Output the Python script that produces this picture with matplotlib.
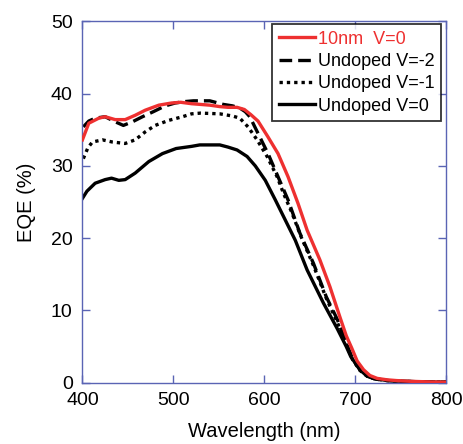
import matplotlib
matplotlib.use("Agg")
import matplotlib.pyplot as plt

plt.rcParams['font.family'] = ['Liberation Sans', 'DejaVu Sans']

# 10nm V=0 (red)
wl_red = [400, 407, 418, 425, 436, 447, 458, 469, 484, 498, 508, 520, 530, 540, 551, 560, 570, 578, 585, 593,
          604, 615, 626, 637, 647, 661, 672, 683, 690, 696, 702, 709, 716, 724, 735, 745, 760, 780, 800]
eqe_red = [33.6, 35.9, 36.6, 36.8, 36.4, 36.4, 37.0, 37.7, 38.4, 38.7, 38.8, 38.6, 38.5, 38.4, 38.2, 38.1, 38.1, 37.8, 37.1, 36.2,
           34.0, 31.7, 28.5, 24.8, 21.1, 17.0, 13.3, 9.1, 6.5, 4.8, 3.0, 1.8, 1.0, 0.6, 0.4, 0.3, 0.2, 0.12, 0.08]

# Undoped V=-2 (dashed)
wl_m2 = [401, 407, 414, 425, 436, 445, 455, 466, 478, 491, 502, 513, 522, 530, 540, 555, 565, 573, 579, 584,
         593, 604, 615, 626, 639, 654, 668, 680, 690, 697, 705, 713, 722, 735, 750, 780, 800]
eqe_m2 = [35.4, 36.2, 36.6, 36.8, 36.1, 35.6, 36.1, 36.8, 37.5, 38.3, 38.7, 38.9, 39.0, 39.0, 39.0, 38.5, 38.3, 38.0, 37.5, 36.8,
          34.5, 31.7, 28.5, 25.3, 20.7, 16.5, 11.9, 8.8, 5.5, 3.3, 1.8, 0.9, 0.5, 0.3, 0.2, 0.1, 0.08]

# Undoped V=-1 (dotted)
wl_m1 = [401, 406, 411, 422, 433, 447, 458, 469, 480, 495, 510, 520, 530, 551, 565, 573, 582, 592, 603, 614,
         621, 630, 640, 654, 668, 680, 690, 697, 705, 713, 722, 735, 750, 780, 800]
eqe_m1 = [31.0, 32.5, 33.3, 33.6, 33.3, 33.1, 33.6, 34.7, 35.6, 36.3, 36.8, 37.2, 37.3, 37.2, 36.9, 36.6, 35.4, 33.6, 31.3, 28.5,
          26.2, 23.6, 20.3, 16.2, 11.7, 8.4, 5.3, 3.2, 1.7, 0.9, 0.5, 0.3, 0.2, 0.1, 0.08]

# Undoped V=0 (solid black)
wl_0 = [400, 405, 414, 425, 432, 440, 447, 458, 473, 488, 503, 520, 529, 551, 560, 570, 581, 590, 601, 612,
        623, 634, 647, 665, 680, 690, 695, 705, 712, 720, 735, 750, 780, 800]
eqe_0 = [25.5, 26.5, 27.6, 28.1, 28.3, 28.0, 28.1, 29.0, 30.6, 31.7, 32.4, 32.7, 32.9, 32.9, 32.6, 32.2, 31.3, 30.0, 28.0, 25.3,
         22.5, 19.7, 15.6, 11.0, 7.5, 5.0, 3.6, 1.8, 1.0, 0.6, 0.3, 0.2, 0.1, 0.08]

labels = ['10nm  V=0', 'Undoped V=-2', 'Undoped V=-1', 'Undoped V=0']
xticks = [400, 500, 600, 700, 800]
yticks = [0, 10, 20, 30, 40, 50]

fig = plt.figure(figsize=(4.63, 4.44), dpi=100)
ax = fig.add_axes([0.178, 0.138, 0.786, 0.814])

ax.plot(wl_0, eqe_0, color='black', lw=2.4, ls='-', label=labels[3], zorder=2)
ax.plot(wl_m1, eqe_m1, color='black', lw=2.4, ls=(0, (1.0, 1.2)), label=labels[2], zorder=2)
ax.plot(wl_m2, eqe_m2, color='black', lw=2.4, ls=(0, (3.8, 1.8)), label=labels[1], zorder=2)
ax.plot(wl_red, eqe_red, color='#ee3030', lw=2.4, ls='-', label=labels[0], zorder=3)

ax.set_xlim(400, 800)
ax.set_ylim(0, 50)
ax.set_xticks(xticks)
ax.set_yticks(yticks)
spine_col = '#5a64b4'
for s in ax.spines.values():
    s.set_color(spine_col)
    s.set_linewidth(1.0)
ax.tick_params(direction='in', length=6, width=1.0, color=spine_col, labelsize=14,
               top=True, right=True)
ax.tick_params(axis='x', pad=7)
ax.tick_params(axis='y', pad=7)
ax.set_xlabel('Wavelength (nm)', fontsize=14.5, labelpad=9)
ax.set_ylabel('EQE (%)', fontsize=14.5, labelpad=11)

handles, labs = ax.get_legend_handles_labels()
order = [3, 2, 1, 0]
leg = ax.legend([handles[i] for i in order], [labs[i] for i in order],
                loc='upper right', bbox_to_anchor=(0.986, 0.992), borderaxespad=0,
                fontsize=13, frameon=True, fancybox=False, handlelength=2.0,
                handletextpad=0.2, labelspacing=0.3, borderpad=0.35)
leg.get_frame().set_edgecolor('black')
leg.get_frame().set_linewidth(1.3)
leg.get_texts()[0].set_color('#ee3030')

fig.savefig('out.png', dpi=100)
